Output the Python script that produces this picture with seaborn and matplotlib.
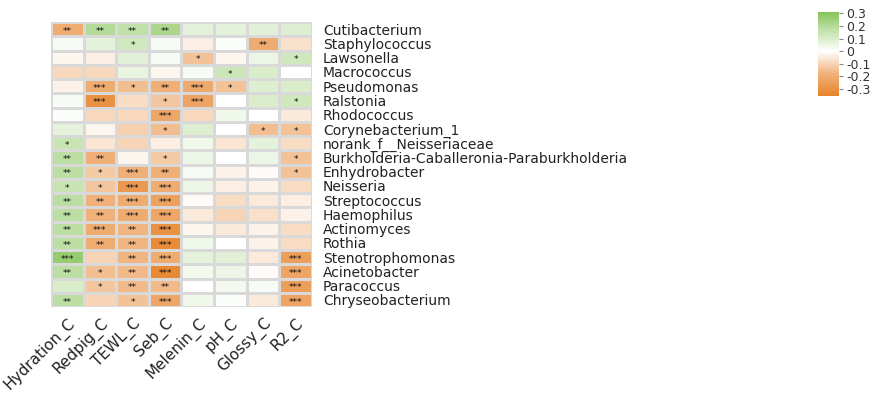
import numpy as np
import pandas as pd
import matplotlib
matplotlib.use("Agg")
import matplotlib.pyplot as plt
import seaborn as sns
from matplotlib.colors import LinearSegmentedColormap

genera = ["Cutibacterium", "Staphylococcus", "Lawsonella", "Macrococcus", "Pseudomonas",
          "Ralstonia", "Rhodococcus", "Corynebacterium_1", "norank_f__Neisseriaceae",
          "Burkholderia-Caballeronia-Paraburkholderia", "Enhydrobacter", "Neisseria",
          "Streptococcus", "Haemophilus", "Actinomyces", "Rothia", "Stenotrophomonas",
          "Acinetobacter", "Paracoccus", "Chryseobacterium"]
factors = ["Hydration_C", "Redpig_C", "TEWL_C", "Seb_C", "Melenin_C", "pH_C", "Glossy_C", "R2_C"]

hydration = [-0.20, 0.02, -0.02, -0.09, -0.03, 0.02, 0.01, 0.07, 0.15, 0.18,
             0.18, 0.15, 0.18, 0.18, 0.18, 0.18, 0.27, 0.18, 0.10, 0.18]
redpig = [0.20, 0.07, -0.04, -0.09, -0.20, -0.30, -0.09, -0.02, -0.06, -0.19,
          -0.12, -0.13, -0.18, -0.18, -0.20, -0.20, -0.10, -0.15, -0.13, -0.10]
tewl = [0.17, 0.13, 0.08, 0.06, -0.15, -0.08, -0.09, -0.11, -0.10, -0.02,
        -0.19, -0.27, -0.20, -0.20, -0.17, -0.17, -0.17, -0.16, -0.16, -0.14]
seb = [0.22, 0.02, 0.02, -0.02, -0.19, -0.13, -0.22, -0.15, -0.04, -0.12,
       -0.19, -0.20, -0.24, -0.22, -0.30, -0.32, -0.20, -0.33, -0.16, -0.22]
melenin = [0.07, -0.04, -0.14, 0.02, -0.21, -0.23, -0.09, 0.09, 0.04, 0.05,
           0.02, 0.05, -0.01, -0.05, -0.02, 0.04, 0.07, 0.03, 0.00, 0.04]
ph = [0.07, 0.01, -0.02, 0.14, -0.14, 0.00, 0.04, 0.00, -0.06, 0.00,
      -0.03, -0.04, -0.08, -0.10, -0.05, 0.00, 0.08, 0.05, 0.03, 0.01]
glossy = [0.08, -0.20, 0.05, 0.10, 0.09, 0.10, 0.00, -0.15, 0.07, 0.05,
          -0.01, -0.03, -0.05, -0.07, -0.03, -0.03, -0.05, -0.01, 0.02, -0.05]
r2 = [0.09, -0.07, 0.13, 0.00, 0.10, 0.13, -0.05, -0.14, -0.08, -0.14,
      -0.14, -0.08, -0.04, -0.03, -0.08, -0.08, -0.25, -0.23, -0.25, -0.23]

stars_hydration = ["**", "", "", "", "", "", "", "", "*", "**",
                   "**", "*", "**", "**", "**", "**", "***", "**", "", "**"]
stars_redpig = ["**", "", "", "", "***", "***", "", "", "", "**",
                "*", "*", "**", "**", "***", "**", "", "*", "*", ""]
stars_tewl = ["**", "*", "", "", "*", "", "", "", "", "",
              "***", "***", "***", "***", "**", "**", "**", "**", "**", "*"]
stars_seb = ["**", "", "", "", "**", "*", "***", "*", "", "*",
             "**", "***", "***", "***", "***", "***", "***", "***", "**", "***"]
stars_melenin = ["", "", "*", "", "***", "***", "", "", "", "",
                 "", "", "", "", "", "", "", "", "", ""]
stars_ph = ["", "", "", "*", "*", "", "", "", "", "",
            "", "", "", "", "", "", "", "", "", ""]
stars_glossy = ["", "**", "", "", "", "", "", "*", "", "",
                "", "", "", "", "", "", "", "", "", ""]
stars_r2 = ["", "", "*", "", "", "*", "", "*", "", "*",
            "*", "", "", "", "", "", "***", "***", "***", "***"]

cbar_ticks = [0.3, 0.2, 0.1, 0, -0.1, -0.2, -0.3]
cbar_ticklabels = ["0.3", "0.2", "0.1", "0", "-0.1", "-0.2", "-0.3"]

values = pd.DataFrame(dict(zip(factors, [hydration, redpig, tewl, seb, melenin, ph, glossy, r2])),
                      index=genera)
stars = pd.DataFrame(dict(zip(factors, [stars_hydration, stars_redpig, stars_tewl, stars_seb,
                                         stars_melenin, stars_ph, stars_glossy, stars_r2])),
                     index=genera)

vmin, vmax = -0.355, 0.31
mid = (0 - vmin) / (vmax - vmin)
cmap = LinearSegmentedColormap.from_list(
    "og", [(0.0, "#E6832A"), (mid * 0.5, "#F0B27C"), (mid, "#FFFFFF"),
           (mid + (1 - mid) * 0.5, "#C6E3B0"), (1.0, "#86C45A")])

sns.set_style("white")
plt.rcParams["font.family"] = ["DejaVu Sans"]

fig = plt.figure(figsize=(8.79, 3.99), dpi=100)
ax = fig.add_axes([51 / 879, 1 - 307 / 399, (312 - 51) / 879, (307 - 22) / 399])
cax = fig.add_axes([818 / 879, 1 - 96 / 399, 21 / 879, 84 / 399])

sns.heatmap(values, ax=ax, cbar_ax=cax, cmap=cmap, vmin=vmin, vmax=vmax,
            annot=stars, fmt="", annot_kws={"size": 6.5, "color": "#111111"},
            linewidths=1, linecolor="#D9D9D9", square=False,
            cbar_kws={"ticks": cbar_ticks})

for t in ax.texts:
    x, y = t.get_position()
    t.set_position((x, y + 0.15))

ax.yaxis.tick_right()
ax.set_yticks(np.arange(len(genera)) + 0.5)
ax.set_yticklabels(genera, rotation=0, fontsize=10, color="#222222")
ax.set_xticklabels(factors, rotation=45, ha="right", rotation_mode="anchor",
                   fontsize=11, color="#222222")
ax.tick_params(axis="both", length=0, pad=6)
ax.tick_params(axis="y", pad=8)
ax.set_xlabel("")
ax.set_ylabel("")
for s in ax.spines.values():
    s.set_visible(False)

cax.set_yticklabels(cbar_ticklabels, fontsize=9, color="#333333")
cax.tick_params(axis="y", length=3, width=0.8, color="#888888", pad=2)
for s in cax.spines.values():
    s.set_visible(False)

fig.savefig("out.png", dpi=100)
